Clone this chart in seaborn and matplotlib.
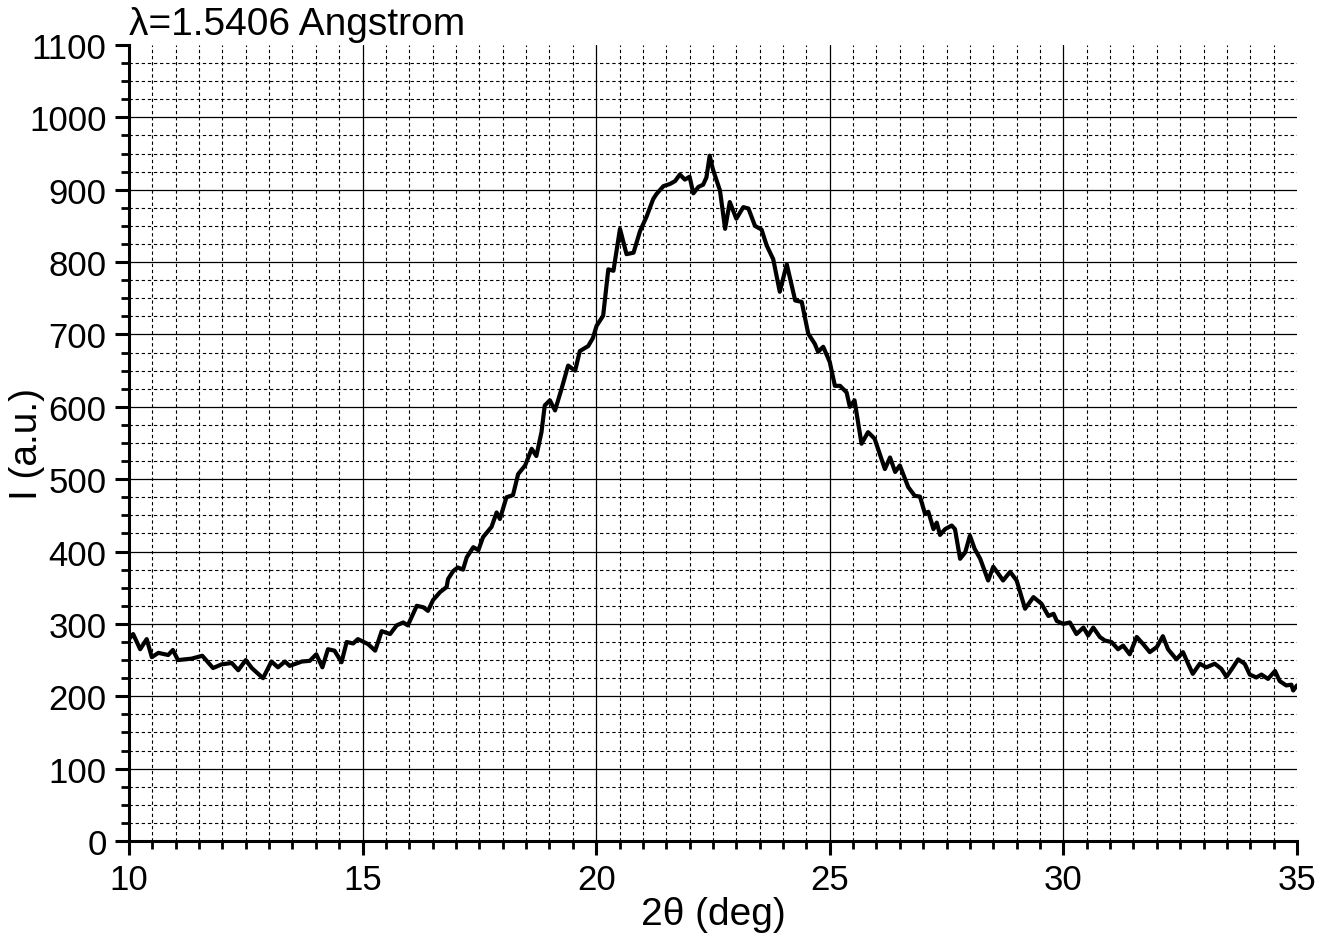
import numpy as np
import pandas as pd
import matplotlib
matplotlib.use("Agg")
import matplotlib.pyplot as plt
from matplotlib.ticker import MultipleLocator
import seaborn as sns

# 그림에서 읽어낸 XRD 데이터 (2θ, 강도)
two_theta = [
    10.00, 10.09, 10.24, 10.38, 10.49, 10.63, 10.84, 10.94, 11.05, 11.34,
    11.57, 11.80, 11.98, 12.20, 12.34, 12.50, 12.63, 12.87, 13.05, 13.19,
    13.34, 13.44, 13.70, 13.87, 14.01, 14.14, 14.26, 14.40, 14.55, 14.66,
    14.80, 14.90, 15.12, 15.27, 15.41, 15.59, 15.73, 15.87, 15.97, 16.16,
    16.30, 16.40, 16.51, 16.66, 16.80, 16.83, 16.94, 17.04, 17.15, 17.23,
    17.37, 17.48, 17.58, 17.76, 17.87, 17.94, 18.08, 18.22, 18.33, 18.48,
    18.62, 18.72, 18.83, 18.90, 19.01, 19.12, 19.26, 19.40, 19.55, 19.65,
    19.83, 19.93, 20.01, 20.15, 20.26, 20.37, 20.51, 20.65, 20.80, 20.94,
    21.08, 21.22, 21.29, 21.44, 21.58, 21.69, 21.79, 21.90, 22.00, 22.08,
    22.19, 22.29, 22.36, 22.43, 22.50, 22.65, 22.76, 22.86, 23.00, 23.15,
    23.26, 23.40, 23.54, 23.65, 23.79, 23.93, 24.08, 24.26, 24.40, 24.54,
    24.68, 24.75, 24.86, 25.00, 25.11, 25.22, 25.36, 25.43, 25.53, 25.68,
    25.82, 25.96, 26.18, 26.29, 26.40, 26.50, 26.68, 26.82, 26.93, 27.04,
    27.11, 27.22, 27.29, 27.36, 27.47, 27.61, 27.68, 27.79, 27.90, 28.00,
    28.10, 28.22, 28.39, 28.50, 28.71, 28.86, 29.00, 29.18, 29.36, 29.53,
    29.68, 29.79, 29.86, 30.00, 30.14, 30.28, 30.43, 30.53, 30.64, 30.78,
    30.89, 31.03, 31.17, 31.28, 31.42, 31.57, 31.71, 31.85, 32.00, 32.13,
    32.24, 32.42, 32.56, 32.67, 32.77, 32.92, 33.06, 33.24, 33.38, 33.49,
    33.63, 33.74, 33.88, 33.99, 34.13, 34.24, 34.38, 34.53, 34.63, 34.77,
    34.88, 34.92, 35.00,
]
intensity = [
    279, 286, 265, 279, 254, 260, 257, 264, 250, 252,
    256, 239, 244, 246, 236, 250, 239, 225, 248, 240,
    248, 242, 248, 249, 258, 240, 265, 263, 247, 275,
    273, 279, 272, 263, 290, 286, 298, 302, 298, 325,
    323, 318, 333, 344, 351, 362, 373, 378, 375, 392,
    406, 402, 420, 434, 454, 445, 475, 478, 507, 519,
    542, 532, 565, 602, 609, 595, 625, 657, 650, 677,
    684, 695, 712, 726, 790, 788, 846, 811, 813, 843,
    863, 887, 894, 905, 908, 912, 921, 914, 918, 895,
    904, 907, 917, 947, 928, 899, 846, 883, 860, 876,
    874, 850, 845, 823, 804, 759, 797, 747, 745, 701,
    687, 676, 683, 662, 629, 629, 620, 600, 609, 549,
    565, 556, 514, 530, 510, 519, 489, 477, 476, 452,
    455, 431, 440, 423, 431, 436, 431, 390, 399, 422,
    404, 390, 360, 379, 360, 372, 360, 321, 337, 328,
    311, 314, 304, 300, 302, 286, 295, 284, 295, 282,
    277, 275, 265, 270, 258, 282, 272, 261, 268, 283,
    265, 251, 261, 245, 231, 245, 240, 245, 238, 227,
    240, 251, 245, 230, 226, 230, 224, 235, 221, 215,
    216, 208, 215,
]

x_ticks = [10, 15, 20, 25, 30, 35]
y_ticks = list(range(0, 1200, 100))
title_text = "λ=1.5406 Angstrom"


def plot_xrd(save_path="out.png"):
    df = pd.DataFrame({"two_theta": two_theta, "intensity": intensity})

    sns.set_style("ticks")
    plt.rcParams["font.family"] = ["Liberation Sans", "DejaVu Sans"]
    plt.rcParams["text.color"] = "black"
    plt.rcParams["axes.labelcolor"] = "black"

    fig = plt.figure(figsize=(13.32, 9.45), dpi=100)
    ax = fig.add_axes([0.0968, 0.1090, 0.8769, 0.8423])

    # 격자: 주눈금은 실선, 보조눈금은 점선
    ax.grid(which="major", color="black", linestyle="-", linewidth=0.9)
    ax.grid(which="minor", color="black", linestyle=(0, (3, 2.5)), linewidth=0.8)
    ax.set_axisbelow(True)

    sns.lineplot(data=df, x="two_theta", y="intensity", estimator=None,
                 sort=False, color="black", linewidth=3.0, ax=ax)

    ax.set_xlim(10, 35)
    ax.set_ylim(0, 1100)
    ax.set_xticks(x_ticks)
    ax.set_yticks(y_ticks)
    ax.xaxis.set_minor_locator(MultipleLocator(0.5))
    ax.yaxis.set_minor_locator(MultipleLocator(25))

    # 위쪽/오른쪽 경계의 격자선은 숨김
    ax.yaxis.get_gridlines()[-1].set_visible(False)
    ax.xaxis.get_gridlines()[-1].set_visible(False)

    for side in ["top", "right"]:
        ax.spines[side].set_visible(False)
    for side in ["left", "bottom"]:
        ax.spines[side].set_linewidth(2.2)
        ax.spines[side].set_color("black")

    ax.tick_params(which="major", direction="out", length=10, width=2.2,
                   labelsize=25, colors="black", pad=6)
    ax.tick_params(which="minor", direction="out", length=5.5, width=2.0,
                   colors="black")

    ax.set_xlabel("2θ (deg)", fontsize=28, labelpad=0)
    ax.set_ylabel("I (a.u.)", fontsize=28)
    ax.yaxis.set_label_coords(-0.072, 0.5)
    ax.text(0.0, 1.004, title_text, transform=ax.transAxes, fontsize=28,
            ha="left", va="bottom")

    fig.savefig(save_path, dpi=100)
    plt.close(fig)


if __name__ == "__main__":
    plot_xrd()
